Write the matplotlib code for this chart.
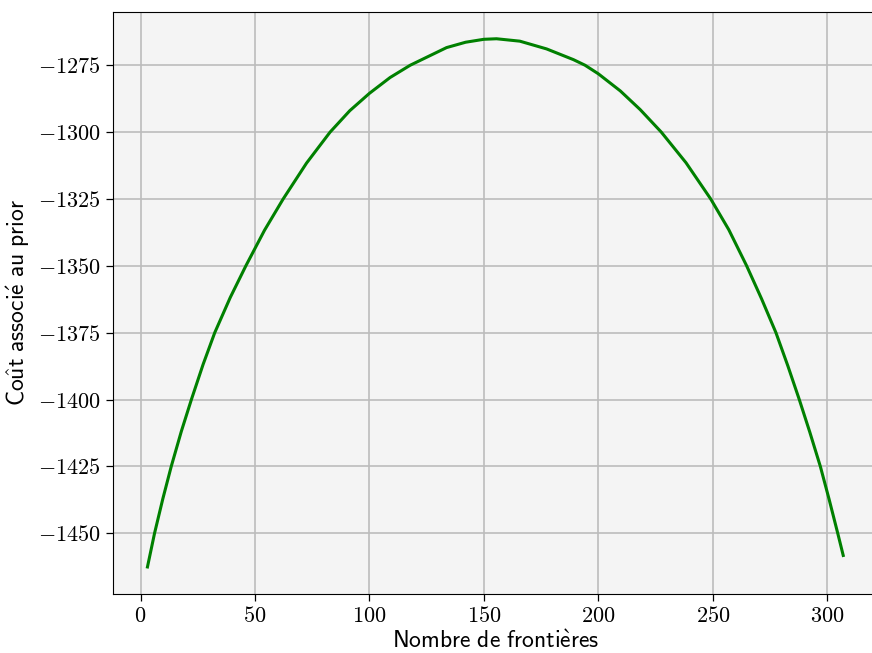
"""Prior cost as a function of the number of boundaries."""
import matplotlib
matplotlib.use("Agg")
import matplotlib.pyplot as plt

# values (grid crossings plus points in between)
n_frontieres = [3, 6.1, 9.75, 13.4, 17.8, 22.2, 27.3, 32.4, 39.2, 46, 54.15,
                62.3, 72.5, 82.8, 91.4, 100, 109, 117.8, 133.7, 142, 150,
                155.5, 165.7, 177.4, 189.1, 194.2, 200, 209.6, 218.3, 227.5,
                238.3, 249.1, 257, 264.8, 271.3, 277.6, 282.8, 287.8, 292.4,
                297.0, 300.8, 304.6, 307.0]
cout_prior = [-1462.6, -1450, -1437.0, -1425, -1411.9, -1400, -1386.9, -1375,
              -1361.8, -1350, -1336.7, -1325, -1311.6, -1300, -1292.0,
              -1285.5, -1279.6, -1275, -1268.4, -1266.4, -1265.3, -1265.1,
              -1266.0, -1268.9, -1272.9, -1275, -1278.2, -1284.6, -1291.6,
              -1300, -1311.45, -1325, -1336.5, -1350, -1362.3, -1375,
              -1387.4, -1400, -1412.2, -1425, -1437.2, -1450, -1458.3]

plt.rcParams["mathtext.fontset"] = "cm"

fig = plt.figure(figsize=(8.72, 6.53), dpi=100)
ax = fig.add_axes([0.1292, 0.0904, 0.8777, 0.8912])
ax.set_facecolor("#f4f4f4")
ax.plot(n_frontieres, cout_prior, color="#008000", lw=2.2)
ax.set_xlim(-12.2, 322.2)
ax.set_ylim(-1472.7, -1255.1)
ax.set_xticks(range(0, 301, 50))
ax.set_yticks(range(-1450, -1274, 25))
ax.set_xticklabels([f"${v}$" for v in range(0, 301, 50)])
ax.set_yticklabels([f"${v}$" for v in range(-1450, -1274, 25)])
ax.tick_params(labelsize=16, length=5, width=0.9)
ax.grid(color="#bcbcbc", lw=1.2)
ax.set_axisbelow(True)
ax.spines["right"].set_visible(False)
ax.set_xlabel(r"$\mathsf{Nombre\ de\ fronti\grave{e}res}$", fontsize=17,
              labelpad=2)
ax.set_ylabel(r"$\mathsf{Co\hat{u}t\ associ\acute{e}\ au\ prior}$", fontsize=17)
fig.savefig("out.png", dpi=100)
